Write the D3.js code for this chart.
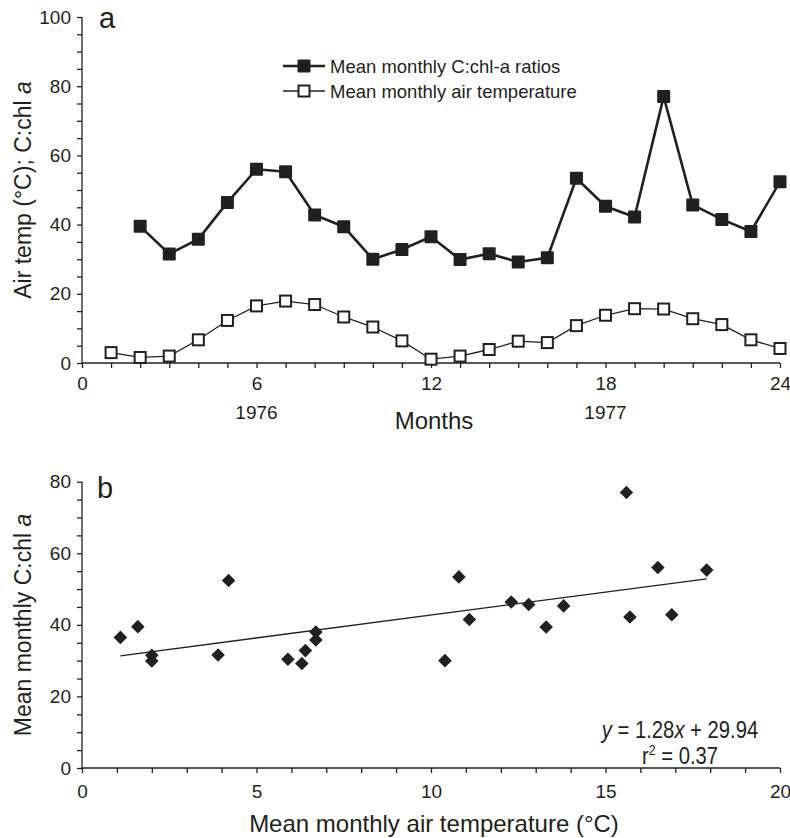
<!DOCTYPE html>
<html>
<head>
<meta charset="utf-8">
<script src="https://cdn.jsdelivr.net/npm/d3@7"></script>
<style>
  html, body { margin: 0; padding: 0; background: #fff; }
  svg { display: block; font-family: "Liberation Sans", Arial, Helvetica, sans-serif; }
  .axis path, .axis line { stroke: #231f20; stroke-width: 1.3px; }
  .axis text { fill: #231f20; font-size: 19px; }
</style>
</head>
<body>
<svg id="chart" width="790" height="838"></svg>
<script>
// Monthly series, Jan 1976 (month 1) to Dec 1977 (month 24)
const months = d3.range(1, 25);
const airTemp = [3.0, 1.6, 2.0, 6.7, 12.3, 16.5, 17.9, 16.9, 13.3, 10.4, 6.4, 1.1,
                 2.0, 3.9, 6.3, 5.9, 10.8, 13.8, 15.7, 15.6, 12.8, 11.1, 6.7, 4.2];
// C:chl-a ratios start in month 2 (no value for month 1)
const chlMonths = d3.range(2, 25);
const chlRatio = [39.5, 31.5, 35.8, 46.4, 56.0, 55.3, 42.8, 39.4, 30.0, 32.8, 36.5,
                  29.9, 31.6, 29.2, 30.4, 53.4, 45.3, 42.2, 77.0, 45.7, 41.5, 38.0, 52.4];
const monthTickLabels = [0, 6, 12, 18, 24];
const yearLabels = [{month: 6, label: "1976"}, {month: 18, label: "1977"}];
const legendItems = ["Mean monthly C:chl-a ratios", "Mean monthly air temperature"];
const regSlope = 1.28, regIntercept = 29.94;

const ink = "#231f20";
const svg = d3.select("#chart");

// ---------- Panel a: time series ----------
const ax = d3.scaleLinear().domain([0, 24]).range([82, 780]);
const ay = d3.scaleLinear().domain([0, 100]).range([363, 17]);

svg.append("g").attr("class", "axis")
  .attr("transform", "translate(0,363)")
  .call(d3.axisBottom(ax).tickValues(d3.range(0, 25)).tickSize(5).tickPadding(9)
    .tickFormat(d => monthTickLabels.includes(d) ? d : ""))
  .call(g => g.select(".domain").attr("d", "M82,0H780"));

svg.append("g").attr("class", "axis")
  .attr("transform", "translate(82,0)")
  .call(d3.axisLeft(ay).tickValues(d3.range(0, 101, 5)).tickSize(5).tickPadding(6)
    .tickFormat(d => d % 20 === 0 ? d : ""))
  .call(g => g.select(".domain").attr("d", "M0,363V17"));

svg.selectAll(".year").data(yearLabels).join("text")
  .attr("x", d => ax(d.month)).attr("y", 419)
  .attr("text-anchor", "middle").attr("font-size", 19).attr("fill", ink)
  .text(d => d.label);

svg.append("text").attr("x", 434).attr("y", 429)
  .attr("text-anchor", "middle").attr("font-size", 24).attr("fill", ink)
  .text("Months");

const ta = svg.append("text")
  .attr("transform", "translate(31,190) rotate(-90)")
  .attr("text-anchor", "middle").attr("font-size", 23).attr("fill", ink);
ta.append("tspan").text("Air temp (°C); C:chl ");
ta.append("tspan").attr("font-style", "italic").text("a");

svg.append("text").attr("x", 99).attr("y", 28)
  .attr("font-size", 29).attr("fill", ink).text("a");

// air temperature: thin line, open squares
const tempData = months.map((m, i) => ({m, v: airTemp[i]}));
svg.append("path").datum(tempData)
  .attr("fill", "none").attr("stroke", ink).attr("stroke-width", 1.3)
  .attr("d", d3.line().x(d => ax(d.m)).y(d => ay(d.v)));
svg.selectAll(".tsq").data(tempData).join("rect")
  .attr("x", d => ax(d.m) - 5.5).attr("y", d => ay(d.v) - 5.5)
  .attr("width", 11).attr("height", 11)
  .attr("fill", "#fff").attr("stroke", ink).attr("stroke-width", 2);

// C:chl-a ratio: thick line, filled squares
const chlData = chlMonths.map((m, i) => ({m, v: chlRatio[i]}));
svg.append("path").datum(chlData)
  .attr("fill", "none").attr("stroke", ink).attr("stroke-width", 2.6)
  .attr("d", d3.line().x(d => ax(d.m)).y(d => ay(d.v)));
svg.selectAll(".csq").data(chlData).join("rect")
  .attr("x", d => ax(d.m) - 6.5).attr("y", d => ay(d.v) - 6.5)
  .attr("width", 13).attr("height", 13).attr("rx", 1)
  .attr("fill", ink);

// legend
const lg = svg.append("g");
[0, 1].forEach(i => {
  const y = 66 + i * 25;
  lg.append("line").attr("x1", 283).attr("x2", 325).attr("y1", y).attr("y2", y)
    .attr("stroke", ink).attr("stroke-width", i === 0 ? 2.6 : 1.3);
  if (i === 0) {
    lg.append("rect").attr("x", 297.5).attr("y", y - 6.5).attr("width", 13).attr("height", 13)
      .attr("rx", 1).attr("fill", ink);
  } else {
    lg.append("rect").attr("x", 298.5).attr("y", y - 5.5).attr("width", 11).attr("height", 11)
      .attr("fill", "#fff").attr("stroke", ink).attr("stroke-width", 2);
  }
  lg.append("text").attr("x", 330).attr("y", y + 7)
    .attr("font-size", 18.5).attr("fill", ink).text(legendItems[i]);
});

// ---------- Panel b: scatter ----------
const bx = d3.scaleLinear().domain([0, 20]).range([82, 780]);
const by = d3.scaleLinear().domain([0, 80]).range([768, 481.7]);

svg.append("g").attr("class", "axis")
  .attr("transform", "translate(0,768)")
  .call(d3.axisBottom(bx).tickValues(d3.range(0, 21)).tickSize(5).tickPadding(12)
    .tickFormat(d => d % 5 === 0 ? d : ""))
  .call(g => g.select(".domain").attr("d", "M82,0H780"));

svg.append("g").attr("class", "axis")
  .attr("transform", "translate(82,0)")
  .call(d3.axisLeft(by).tickValues(d3.range(0, 81, 5)).tickSize(5).tickPadding(6)
    .tickFormat(d => d % 20 === 0 ? d : ""))
  .call(g => g.select(".domain").attr("d", "M0,768V481.7"));

svg.append("text").attr("x", 97).attr("y", 498)
  .attr("font-size", 29).attr("fill", ink).text("b");

const tb = svg.append("text")
  .attr("transform", "translate(31,625) rotate(-90)")
  .attr("text-anchor", "middle").attr("font-size", 23).attr("fill", ink);
tb.append("tspan").text("Mean monthly C:chl ");
tb.append("tspan").attr("font-style", "italic").text("a");

svg.append("text").attr("x", 434).attr("y", 832)
  .attr("text-anchor", "middle").attr("font-size", 24).attr("fill", ink)
  .text("Mean monthly air temperature (°C)");

// pairs: air temperature vs C:chl-a for the same month
const pairs = chlMonths.map((m, i) => ({x: airTemp[m - 1], y: chlRatio[i]}));

const xExt = d3.extent(pairs, d => d.x);
svg.append("line")
  .attr("x1", bx(xExt[0])).attr("y1", by(regSlope * xExt[0] + regIntercept))
  .attr("x2", bx(xExt[1])).attr("y2", by(regSlope * xExt[1] + regIntercept))
  .attr("stroke", ink).attr("stroke-width", 1.3);

svg.selectAll(".dia").data(pairs).join("path")
  .attr("d", d3.symbol(d3.symbolSquare, 92))
  .attr("transform", d => `translate(${bx(d.x)},${by(d.y)}) rotate(45)`)
  .attr("fill", ink);

// regression annotation, in a narrowed face
const eqG = svg.append("g").attr("transform", "translate(680,738) scale(0.88,1)");
const eq = eqG.append("text").attr("x", 0).attr("y", 0)
  .attr("text-anchor", "middle").attr("font-size", 23).attr("fill", ink);
eq.append("tspan").attr("font-style", "italic").text("y");
eq.append("tspan").text(` = ${regSlope}`);
eq.append("tspan").attr("font-style", "italic").text("x");
eq.append("tspan").text(` + ${regIntercept}`);

const r2G = svg.append("g").attr("transform", "translate(680,764) scale(0.88,1)");
const r2 = r2G.append("text").attr("x", 0).attr("y", 0)
  .attr("text-anchor", "middle").attr("font-size", 23).attr("fill", ink);
r2.append("tspan").text("r");
r2.append("tspan").attr("dy", -9).attr("font-size", 14).text("2");
r2.append("tspan").attr("dy", 9).text(" = 0.37");
</script>
</body>
</html>
